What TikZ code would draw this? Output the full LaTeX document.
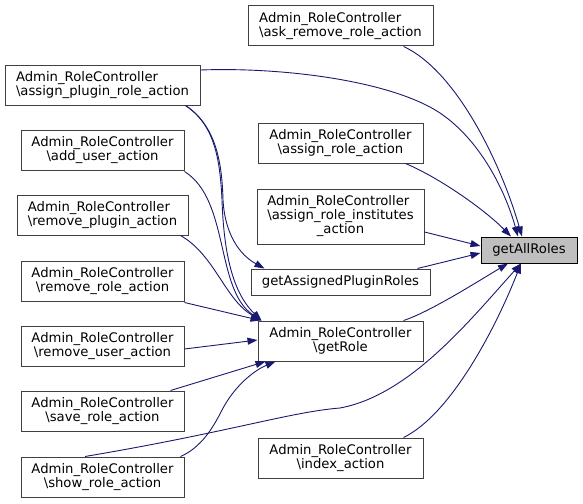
\documentclass[tikz,border=0pt]{standalone}
\usepackage{fontspec}
\setmainfont{DejaVu Sans}
\usetikzlibrary{arrows.meta}
\definecolor{edgecol}{HTML}{191970}
\definecolor{boxcol}{HTML}{404040}
\definecolor{hlfill}{HTML}{BFBFBF}
\newcommand{\lbl}[2]{\begin{tabular}{@{}c@{}}\multicolumn{1}{@{}l@{}}{#1}\\#2\end{tabular}}
\begin{document}
\begin{tikzpicture}[x=1pt,y=-1pt,
  fn/.style={draw=boxcol,line width=1pt,fill=white,inner sep=0pt,
    font=\fontsize{13.2}{13.3}\selectfont},
  hl/.style={fn,draw=black,fill=hlfill},
  call/.style={draw=edgecol,line width=0.9pt,-{Triangle[length=10pt,width=7pt]}}]
\useasboundingbox (0,0) rectangle (583,503);
% nodes
\node[fn,minimum width=185,minimum height=40] (askremove) at (340.5,26) {\lbl{Admin\_RoleController}{\textbackslash ask\_remove\_role\_action}};
\node[fn,minimum width=195,minimum height=40] (assignplugin) at (102.5,85) {\lbl{Admin\_RoleController}{\textbackslash assign\_plugin\_role\_action}};
\node[fn,minimum width=165,minimum height=40] (assignrole) at (340.5,143) {\lbl{Admin\_RoleController}{\textbackslash assign\_role\_action}};
\node[fn,minimum width=163,minimum height=40] (adduser) at (102.5,150) {\lbl{Admin\_RoleController}{\textbackslash add\_user\_action}};
\node[fn,minimum width=167,minimum height=55] (institutes) at (340.5,216.5) {\begin{tabular}{@{}c@{}}\multicolumn{1}{@{}l@{}}{Admin\_RoleController}\\\textbackslash assign\_role\_institutes\\\_action\end{tabular}};
\node[fn,minimum width=171,minimum height=40] (removeplugin) at (102.5,215) {\lbl{Admin\_RoleController}{\textbackslash remove\_plugin\_action}};
\node[hl,minimum width=96,minimum height=26] (getall) at (529,250) {getAllRoles};
\node[fn,minimum width=179,minimum height=26] (getassigned) at (340.5,282) {getAssignedPluginRoles};
\node[fn,minimum width=163,minimum height=40] (removerole) at (102.5,281) {\lbl{Admin\_RoleController}{\textbackslash remove\_role\_action}};
\node[fn,minimum width=165,minimum height=40] (getrole) at (340.5,341) {\lbl{Admin\_RoleController}{\textbackslash getRole}};
\node[fn,minimum width=163,minimum height=40] (removeuser) at (102.5,346) {\lbl{Admin\_RoleController}{\textbackslash remove\_user\_action}};
\node[fn,minimum width=163,minimum height=40] (saverole) at (102.5,411) {\lbl{Admin\_RoleController}{\textbackslash save\_role\_action}};
\node[fn,minimum width=165,minimum height=40] (index) at (340.5,458) {\lbl{Admin\_RoleController}{\textbackslash index\_action}};
\node[fn,minimum width=163,minimum height=40] (showrole) at (102.5,477) {\lbl{Admin\_RoleController}{\textbackslash show\_role\_action}};
% edges to getAllRoles
\draw[call] ([xshift=-30]askremove.south east) .. controls (455,70) and (500,160) .. ([xshift=-7]getall.north);
\draw[call] ([yshift=15]assignplugin.east) .. controls (280,67) and (390,80) .. (440,113) .. controls (480,140) and (505,190) .. ([xshift=-11]getall.north);
\draw[call] ([xshift=-18]assignrole.south east) .. controls (440,178) and (485,210) .. ([xshift=-18]getall.north);
\draw[call] ([yshift=-15.5]institutes.east) -- ([yshift=4]getall.west);
\draw[call] ([xshift=-13]getassigned.north east) -- ([yshift=-3]getall.west);
\draw[call] ([xshift=-20]getrole.north east) .. controls (430,312) and (480,280) .. ([xshift=-21]getall.south);
\draw[call] ([xshift=64.5]showrole.north west) .. controls (230,432) and (290,412) .. (340,408) .. controls (410,395) and (470,320) .. ([xshift=-8]getall.south);
\draw[call] ([xshift=-20]index.north east) .. controls (450,415) and (495,330) .. ([xshift=-8]getall.south);
% edges to getAssignedPluginRoles
\draw[call] ([xshift=-15]assignplugin.south east) .. controls (215,125) and (222,160) .. (223,200) .. controls (225,235) and (240,255) .. ([xshift=14]getassigned.north west);
% edges to getRole
\draw[call] ([xshift=-15]assignplugin.south east) .. controls (215,125) and (220,160) .. (222,200) .. controls (224,260) and (235,295) .. ([xshift=4]getrole.north west);
\draw[call] ([yshift=-1]adduser.south east) .. controls (230,200) and (215,290) .. ([xshift=4]getrole.north west);
\draw[call] ([xshift=-8]removeplugin.south east) .. controls (215,255) and (225,300) .. ([xshift=4]getrole.north west);
\draw[call] ([yshift=-1]removerole.south east) -- ([xshift=3]getrole.north west);
\draw[call] ([yshift=-3]removeuser.east) -- ([yshift=1]getrole.west);
\draw[call] ([xshift=-14]saverole.north east) -- ([xshift=8]getrole.south west);
\draw[call] ([xshift=-4]showrole.north east) .. controls (200,448) and (212,430) .. (222,410) .. controls (235,385) and (255,370) .. ([xshift=18]getrole.south west);
\end{tikzpicture}
\end{document}
